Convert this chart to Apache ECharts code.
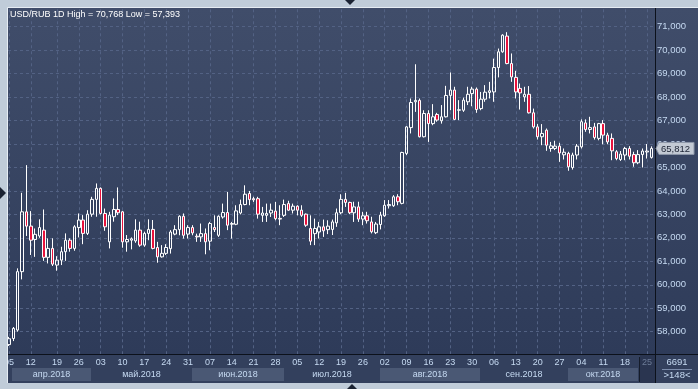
<!DOCTYPE html>
<html><head><meta charset="utf-8">
<script src="https://cdn.jsdelivr.net/npm/echarts@6/dist/echarts.min.js"></script>
<style>html,body{margin:0;padding:0;background:#c0ccd9;}#chart{width:698px;height:389px;}</style>
</head><body><div id="chart"></div>
<script>
// ---- data ----
const dates = [
'2018-04-05','2018-04-06','2018-04-09','2018-04-10','2018-04-11','2018-04-12','2018-04-13','2018-04-14','2018-04-16','2018-04-17',
'2018-04-18','2018-04-19','2018-04-20','2018-04-23','2018-04-24','2018-04-25','2018-04-26','2018-04-27','2018-04-30','2018-05-01',
'2018-05-02','2018-05-03','2018-05-04','2018-05-07','2018-05-08','2018-05-09','2018-05-10','2018-05-11','2018-05-14','2018-05-15',
'2018-05-16','2018-05-17','2018-05-18','2018-05-21','2018-05-22','2018-05-23','2018-05-24','2018-05-25','2018-05-28','2018-05-29',
'2018-05-30','2018-05-31','2018-06-01','2018-06-04','2018-06-05','2018-06-06','2018-06-07','2018-06-08','2018-06-11','2018-06-12',
'2018-06-13','2018-06-14','2018-06-15','2018-06-18','2018-06-19','2018-06-20','2018-06-21','2018-06-22','2018-06-25','2018-06-26',
'2018-06-27','2018-06-28','2018-06-29','2018-07-02','2018-07-03','2018-07-04','2018-07-05','2018-07-06','2018-07-09','2018-07-10',
'2018-07-11','2018-07-12','2018-07-13','2018-07-16','2018-07-17','2018-07-18','2018-07-19','2018-07-20','2018-07-23','2018-07-24',
'2018-07-25','2018-07-26','2018-07-27','2018-07-30','2018-07-31','2018-08-01','2018-08-02','2018-08-03','2018-08-06','2018-08-07',
'2018-08-08','2018-08-09','2018-08-10','2018-08-13','2018-08-14','2018-08-15','2018-08-16','2018-08-17','2018-08-20','2018-08-21',
'2018-08-22','2018-08-23','2018-08-24','2018-08-27','2018-08-28','2018-08-29','2018-08-30','2018-08-31','2018-09-03','2018-09-04',
'2018-09-05','2018-09-06','2018-09-07','2018-09-10','2018-09-11','2018-09-12','2018-09-13','2018-09-14','2018-09-17','2018-09-18',
'2018-09-19','2018-09-20','2018-09-21','2018-09-24','2018-09-25','2018-09-26','2018-09-27','2018-09-28','2018-10-01','2018-10-02',
'2018-10-03','2018-10-04','2018-10-05','2018-10-08','2018-10-09','2018-10-10','2018-10-11','2018-10-12','2018-10-15','2018-10-16',
'2018-10-17','2018-10-18','2018-10-19','2018-10-22','2018-10-23','2018-10-24','2018-10-25','2018-10-26'];

const opens = [
57.45,57.71,58.07,60.56,63.11,62.50,61.93,62.08,62.33,61.17,
61.55,60.84,61.05,61.41,61.90,61.55,62.44,62.76,62.19,63.01,
63.64,64.11,63.04,61.83,62.90,63.21,63.11,61.83,61.90,61.87,
62.33,61.69,62.19,62.36,61.59,61.19,61.34,61.54,62.16,62.35,
62.92,62.16,62.44,62.07,62.04,62.18,61.86,62.44,62.11,62.89,
63.08,62.58,62.58,63.06,63.42,63.89,63.67,63.67,62.96,62.96,
63.06,63.14,62.83,62.96,63.46,63.18,63.35,63.18,63.01,62.40,
62.18,62.25,62.47,62.35,62.36,62.64,63.07,63.64,63.51,63.07,
63.32,62.80,62.94,62.68,62.22,62.57,62.94,63.37,63.37,63.75,
63.47,65.60,66.70,67.80,67.86,66.31,67.30,66.87,67.26,66.99,
67.16,68.07,68.30,67.44,67.44,67.80,68.15,68.34,67.51,67.91,
68.20,68.22,69.26,69.93,70.60,69.43,68.84,68.37,68.01,68.12,
67.33,66.73,66.31,66.59,65.81,65.81,65.91,65.54,65.60,65.00,
65.53,65.88,66.90,66.62,66.73,66.24,66.87,66.38,66.24,65.67,
65.34,65.53,65.81,65.55,65.20,65.55,65.66,65.43];

const closes = [
57.70,58.14,60.56,63.11,62.50,61.90,62.15,62.44,61.17,61.55,
60.88,61.05,61.41,61.90,61.55,62.47,62.76,62.19,63.01,63.64,
64.11,63.04,62.47,62.97,63.21,63.07,61.83,61.93,61.96,62.33,
61.69,62.19,62.36,61.55,61.19,61.34,61.59,62.25,62.35,62.92,
62.11,62.44,62.21,62.04,62.18,61.83,62.61,62.35,62.92,63.08,
62.54,62.61,63.15,63.42,63.86,63.63,63.62,63.01,63.06,63.04,
63.18,62.82,62.80,63.42,63.18,63.35,63.18,62.96,62.54,61.86,
62.40,62.47,62.30,62.50,62.68,63.07,63.64,63.51,63.07,63.32,
62.80,62.94,62.73,62.26,62.59,62.97,63.39,63.42,63.75,63.54,
65.64,66.73,67.77,67.86,66.31,67.30,66.87,67.16,67.02,67.16,
68.07,68.30,67.05,67.46,67.87,68.12,68.34,67.47,67.91,68.21,
68.27,69.26,69.93,70.64,69.43,68.86,68.22,68.18,68.12,67.33,
66.73,66.31,66.45,65.95,65.92,65.91,65.62,65.65,65.03,65.53,
65.91,66.95,66.62,66.70,66.28,66.87,66.38,66.09,65.71,65.38,
65.57,65.81,65.48,65.20,65.55,65.70,65.70,65.812];

const lows = [
57.393,57.60,58.00,60.23,62.08,61.27,61.19,62.00,61.02,60.91,
60.80,60.60,60.84,61.02,61.41,61.45,62.02,61.73,62.12,62.90,
62.90,63.00,62.30,61.55,62.69,62.97,61.58,61.41,61.51,61.79,
61.62,61.62,61.90,61.51,60.94,61.16,61.27,61.33,62.11,62.11,
61.97,61.97,62.11,61.83,61.83,61.30,61.47,62.25,62.04,62.82,
62.33,61.97,62.54,63.00,63.39,63.39,63.53,62.82,62.68,62.68,
62.89,62.75,62.54,62.89,63.15,63.04,62.96,62.89,62.47,61.69,
61.69,61.97,62.04,62.16,62.12,62.47,63.01,63.32,63.01,62.68,
62.68,62.54,62.61,62.19,62.16,62.36,62.90,63.25,63.32,63.39,
63.43,65.53,66.45,67.37,66.28,66.28,66.09,66.80,66.95,66.87,
67.13,67.44,67.02,67.02,67.37,67.66,67.61,67.33,67.44,67.80,
67.94,67.80,68.84,69.89,69.40,68.65,67.94,67.47,67.80,67.30,
66.66,66.19,65.95,65.71,65.67,65.74,65.24,65.34,64.86,64.91,
65.34,65.81,66.52,66.45,66.19,66.16,65.99,65.99,65.31,65.31,
65.28,65.31,65.34,65.03,65.14,65.00,65.38,65.38];

const highs = [
57.78,58.20,60.70,63.92,65.10,63.14,62.40,62.79,63.21,61.98,
61.98,61.22,61.62,62.19,61.98,62.54,63.04,62.97,63.18,63.75,
64.32,64.15,63.25,63.11,63.68,64.15,63.15,62.12,62.02,62.79,
62.69,62.26,62.79,62.76,61.83,61.69,61.73,62.33,62.54,62.96,
63.04,62.54,62.54,62.18,62.61,62.40,62.68,62.96,62.96,63.46,
63.96,62.68,63.39,63.63,64.24,64.00,63.75,63.75,63.32,63.46,
63.46,63.53,63.39,63.63,63.58,63.46,63.39,63.39,63.04,62.96,
62.82,62.68,62.78,62.75,62.78,63.25,63.86,63.92,63.54,63.54,
63.54,63.11,63.11,62.90,62.68,63.11,63.61,63.61,63.82,63.86,
65.67,66.76,67.94,69.40,67.94,67.44,67.44,67.70,67.33,67.66,
68.48,69.05,68.44,67.87,67.98,68.44,68.44,68.41,68.22,68.51,
68.65,69.64,70.07,70.68,70.768,69.86,69.12,68.58,68.44,68.47,
67.51,66.85,66.85,66.66,66.09,66.14,66.05,65.81,65.67,65.63,
66.00,67.05,67.05,67.16,66.90,66.90,67.02,66.48,66.45,65.74,
65.70,65.88,65.91,65.67,65.74,65.81,66.00,65.90];

// tick labels (Thursdays) and month labels
const xTickDates = ['2018-04-05','2018-04-12','2018-04-19','2018-04-26','2018-05-03','2018-05-10','2018-05-17','2018-05-24','2018-05-31',
'2018-06-07','2018-06-14','2018-06-21','2018-06-28','2018-07-05','2018-07-12','2018-07-19','2018-07-26','2018-08-02','2018-08-09',
'2018-08-16','2018-08-23','2018-08-30','2018-09-06','2018-09-13','2018-09-20','2018-09-27','2018-10-04','2018-10-11','2018-10-18','2018-10-25'];
const monthNames = ['апр.2018','май.2018','июн.2018','июл.2018','авг.2018','сен.2018','окт.2018'];
const monthStarts = ['2018-04-05','2018-05-01','2018-06-01','2018-07-02','2018-08-01','2018-09-03','2018-10-01'];
const cursorDate = '2018-10-25';
const titleText = 'USD/RUB 1D High = 70,768 Low = 57,393';
const barCountText = '>148<';
const volumeText = '6691';

// ---- layout / style ----
const FONT = '"Liberation Sans", Arial, sans-serif';
const PL = 8, PR = 655, PT = 8, PB = 354, BOT = 383, W = 698, H = 389;
const X0 = 8.9, X1 = 651.3;          // first/last bar centres
const Y_TOP = 3.26, Y_BOT = 355.16;   // pixel rows of 72 and 57
const labelColor = '#c6daf2';
const gridLine = {color: '#536284', type: [3, 3], width: 1};
const tickSet = new Set(xTickDates);
const fmt = v => v.toFixed(3).replace('.', ',');

const chart = echarts.init(document.getElementById('chart'));
const candles = dates.map((d, i) => [opens[i], closes[i], lows[i], highs[i]]);

const gridBox = (l, r) => ({left: l, right: W - r, top: Y_TOP, bottom: H - Y_BOT});

const baseGraphics = [
  // plot background
  {type: 'rect', z: -10, shape: {x: PL, y: PT, width: PR - PL, height: PB - PT},
   style: {fill: new echarts.graphic.LinearGradient(0, 0, 0, 1, [{offset: 0, color: '#404d6a'}, {offset: 1, color: '#2e3b59'}])}},
  // right axis area
  {type: 'rect', z: -10, shape: {x: PR, y: PT, width: W - PR, height: PB - PT},
   style: {fill: new echarts.graphic.LinearGradient(0, 0, 0, 1, [{offset: 0, color: '#404d6a'}, {offset: 1, color: '#2e3b59'}])}},
  // bottom axis area
  {type: 'rect', z: 10, shape: {x: PL, y: PB, width: W - PL, height: BOT - PB}, style: {fill: '#33405d'}},
  // frame
  {type: 'rect', z: 30, shape: {x: 0, y: 0, width: W, height: PT}, style: {fill: '#c0ccd9'}},
  {type: 'rect', z: 30, shape: {x: 0, y: 0, width: PL, height: H}, style: {fill: '#c0ccd9'}},
  {type: 'rect', z: 30, shape: {x: 0, y: BOT, width: W, height: H - BOT}, style: {fill: '#c0ccd9'}},
  {type: 'line', z: 31, shape: {x1: PL - 0.5, y1: PT - 0.5, x2: W, y2: PT - 0.5}, style: {stroke: '#e6ecf3', lineWidth: 1}},
  {type: 'line', z: 31, shape: {x1: PL - 0.5, y1: PT - 0.5, x2: PL - 0.5, y2: BOT}, style: {stroke: '#e6ecf3', lineWidth: 1}},
  // axis lines
  {type: 'line', z: 12, shape: {x1: PL, y1: PB + 0.5, x2: W, y2: PB + 0.5}, style: {stroke: '#0c111b', lineWidth: 1}},
  {type: 'line', z: 12, shape: {x1: PR + 0.5, y1: PT, x2: PR + 0.5, y2: BOT}, style: {stroke: '#0c111b', lineWidth: 1}},
  // title
  {type: 'text', z: 25, left: 10, top: 10, style: {text: titleText, fill: '#ffffff', font: '9px ' + FONT}},
  // bottom-right counters
  {type: 'text', z: 25, style: {text: volumeText, x: 677, y: 362, fill: labelColor, font: '9.5px ' + FONT, align: 'center', verticalAlign: 'middle'}},
  {type: 'line', z: 25, shape: {x1: 662, y1: 369.5, x2: 692, y2: 369.5}, style: {stroke: '#7c8cab', lineWidth: 1}},
  {type: 'text', z: 25, style: {text: barCountText, x: 677, y: 375.5, fill: labelColor, font: '9.5px ' + FONT, align: 'center', verticalAlign: 'middle'}},
  // small navigation triangles
  {type: 'polygon', z: 32, shape: {points: [[345, 0], [355, 0], [350, 5]]}, style: {fill: '#1b2333'}},
  {type: 'polygon', z: 32, shape: {points: [[0, 187], [0, 199], [6, 193]]}, style: {fill: '#1b2333'}},
  {type: 'polygon', z: 32, shape: {points: [[347, 389], [357, 389], [352, 384]]}, style: {fill: '#1b2333'}}
];

chart.setOption({
  animation: false,
  backgroundColor: '#c0ccd9',
  textStyle: {fontFamily: FONT},
  grid: [gridBox(X0, X1), gridBox(PL, PR), gridBox(X0, X1)],
  xAxis: [
    {gridIndex: 0, type: 'category', data: dates, boundaryGap: false,
     axisLine: {show: false}, axisTick: {show: false}, axisLabel: {show: false},
     splitLine: {show: true, interval: (i, v) => tickSet.has(v), lineStyle: gridLine}},
    {gridIndex: 1, type: 'value', min: 0, max: 1, show: false},
    {gridIndex: 2, type: 'category', data: dates, boundaryGap: false, z: 20,
     axisLine: {show: false}, axisTick: {show: false}, splitLine: {show: false},
     axisLabel: {interval: (i, v) => tickSet.has(v), formatter: v => v.slice(8), margin: 3,
       fontSize: 9, fontFamily: FONT, color: v => v === cursorDate ? '#6c7b97' : labelColor}}
  ],
  yAxis: [
    {gridIndex: 0, type: 'value', min: 57, max: 72, show: false},
    {gridIndex: 1, type: 'value', min: 57, max: 72, interval: 1, position: 'right',
     axisLine: {show: false}, axisTick: {show: false},
     axisLabel: {margin: 2, fontSize: 9.5, fontFamily: FONT, color: labelColor, formatter: fmt, showMinLabel: false, showMaxLabel: false},
     splitLine: {show: true, lineStyle: gridLine}},
    {gridIndex: 2, type: 'value', min: 57, max: 72, show: false}
  ],
  series: [{
    type: 'candlestick', xAxisIndex: 0, yAxisIndex: 0, data: candles, barWidth: 3, clip: false,
    itemStyle: {color: 'rgba(0,0,0,0)', color0: '#e8123c', borderColor: '#ffffff', borderColor0: '#ffffff', borderWidth: 1}
  }],
  graphic: {elements: baseGraphics}
});

// month bands, cursor box and last-price tag positioned via axis scales
const px = d => chart.convertToPixel({xAxisIndex: 0}, d);
const py = v => chart.convertToPixel({yAxisIndex: 0}, v);
const cx = px(cursorDate);
const extra = [];
const bandTop = 368, bandH = 13;
for (let m = 0; m < monthNames.length; m++) {
  const x1 = m === 0 ? PL + 4 : Math.round(px(monthStarts[m]) - 0.7);
  const x2 = m === monthNames.length - 1 ? Math.round(cx - 8.5) : Math.round(px(monthStarts[m + 1]) - 0.7);
  if (m % 2 === 0) {
    extra.push({type: 'rect', z: 15, shape: {x: x1, y: bandTop, width: x2 - x1, height: bandH}, style: {fill: '#4a5874'}});
  }
  extra.push({type: 'text', z: 22, style: {text: monthNames[m], x: (x1 + x2) / 2, y: bandTop + bandH / 2 + 0.5,
    fill: labelColor, font: '9px ' + FONT, align: 'center', verticalAlign: 'middle'}});
}
// cursor column
extra.push({type: 'rect', z: 14, shape: {x: Math.round(cx - 7), y: PB + 1, width: PR - Math.round(cx - 7), height: BOT - PB - 1}, style: {fill: '#2a3550'}});
extra.push({type: 'line', z: 16, shape: {x1: Math.round(cx - 7) - 0.5, y1: PB + 3, x2: Math.round(cx - 7) - 0.5, y2: BOT - 1}, style: {stroke: '#151c2a', lineWidth: 1}});
// last price tag
const lastClose = closes[closes.length - 1];
const ty = py(lastClose);
extra.push({type: 'polygon', z: 26, shape: {points: [[PR + 1, ty], [PR + 4, ty - 6], [694, ty - 6], [694, ty + 6], [PR + 4, ty + 6]]},
  style: {fill: '#c3cad4', stroke: '#8d97a8', lineWidth: 1}});
extra.push({type: 'text', z: 27, style: {text: fmt(lastClose), x: 661, y: ty + 0.5, fill: '#1b2233', font: '9.5px ' + FONT, verticalAlign: 'middle'}});

chart.setOption({graphic: {elements: baseGraphics.concat(extra)}});
</script>
</body></html>
